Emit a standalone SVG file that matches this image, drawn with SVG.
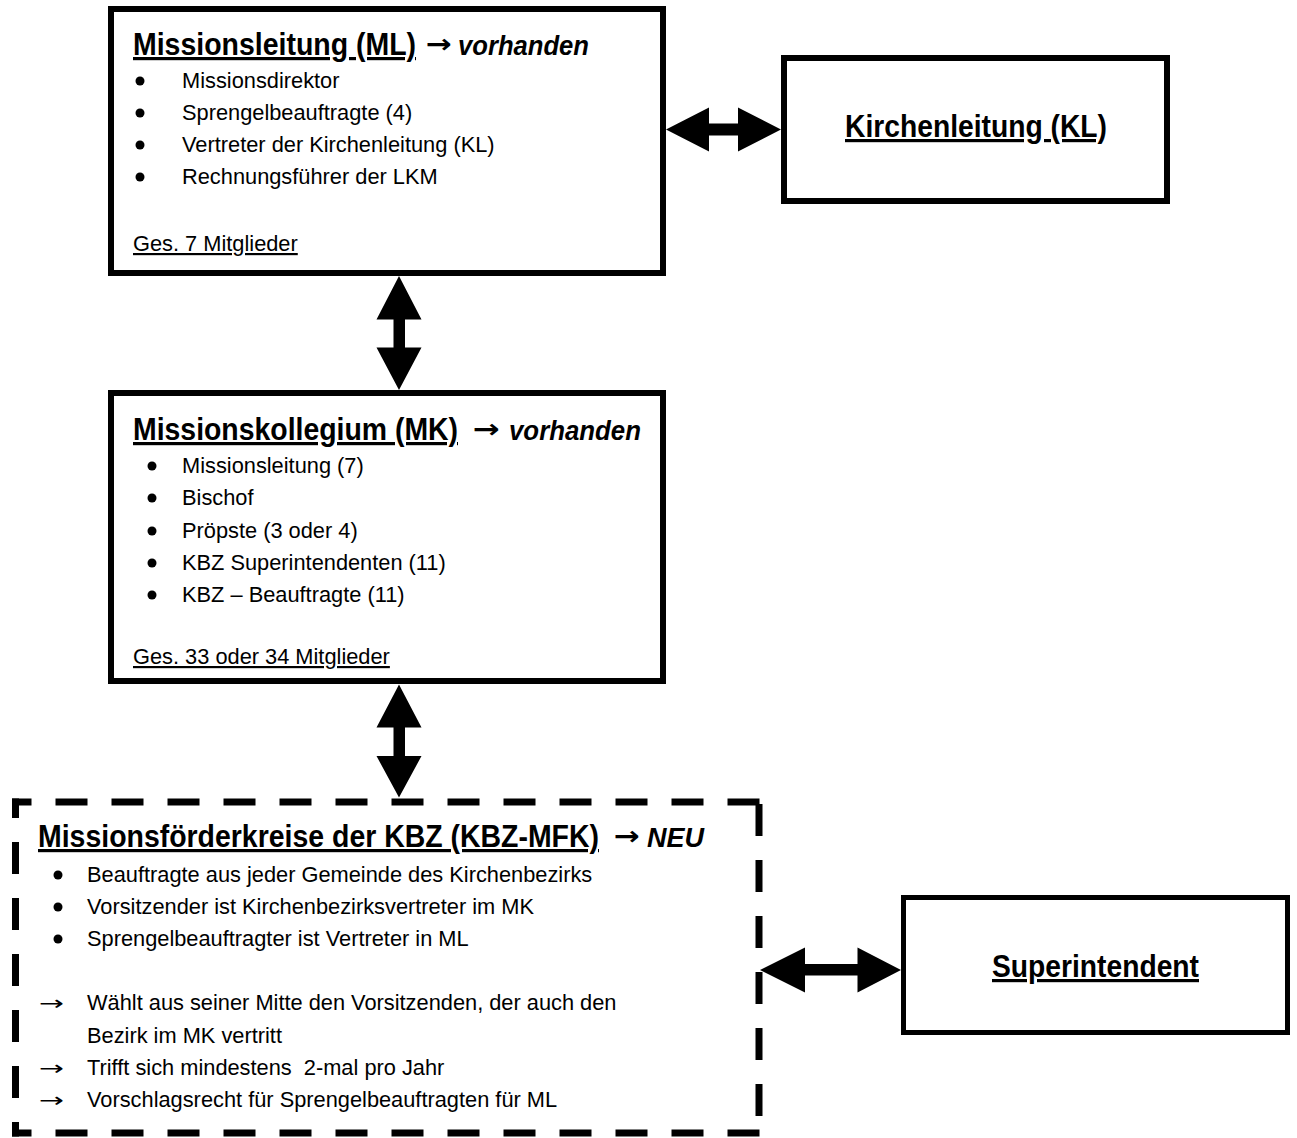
<svg xmlns="http://www.w3.org/2000/svg" width="1297" height="1138" viewBox="0 0 1297 1138">
<style>
.box{fill:#fff;stroke:#000;stroke-width:6}
.dash{fill:none;stroke:#000;stroke-width:7;stroke-dasharray:32 24;stroke-dashoffset:12.5}
.t{font-family:"Liberation Sans",Arial,sans-serif;font-size:32px;font-weight:bold;text-decoration:underline;text-decoration-skip-ink:none}
.v{font-family:"Liberation Sans",Arial,sans-serif;font-size:28px;font-weight:bold;font-style:italic}
.ar{font-family:"DejaVu Sans",sans-serif;font-size:26px;font-weight:bold}
.b{font-family:"Liberation Sans",Arial,sans-serif;font-size:21.8px}
.u{text-decoration:underline;text-decoration-skip-ink:none}
.la{font-family:"DejaVu Sans",sans-serif;font-size:20px}
.con{fill:#000}
</style>
<rect x="0" y="0" width="1297" height="1138" fill="#fff"/>

<g id="connectors">
<polygon class="con" points="666,129.5 709,107.5 709,123.5 738,123.5 738,107.5 781,129.5 738,151.5 738,135.5 709,135.5 709,151.5"/>
<polygon class="con" points="399,276 421.5,319.5 405,319.5 405,347.5 421.5,347.5 399,390 376.5,347.5 393.5,347.5 393.5,319.5 376.5,319.5"/>
<polygon class="con" points="399,684.5 421.5,727.5 405,727.5 405,756 421.5,756 399,797.5 376.5,756 393.5,756 393.5,727.5 376.5,727.5"/>
<polygon class="con" points="760,970 805,947.5 805,964 857.5,964 857.5,947.5 901,970 857.5,992.5 857.5,975.5 805,975.5 805,992.5"/>
</g>

<g id="ml">
<rect class="box" x="111" y="9" width="552" height="264"/>
<text class="t" x="133" y="55" textLength="283" lengthAdjust="spacingAndGlyphs">Missionsleitung (ML)</text>
<text class="ar" x="426" y="53" textLength="26" lengthAdjust="spacingAndGlyphs">→</text>
<text class="v" x="458" y="55" textLength="131" lengthAdjust="spacingAndGlyphs">vorhanden</text>
<circle cx="140" cy="81" r="4.5"/>
<text class="b" x="182" y="88">Missionsdirektor</text>
<circle cx="140" cy="113" r="4.5"/>
<text class="b" x="182" y="120">Sprengelbeauftragte (4)</text>
<circle cx="140" cy="145" r="4.5"/>
<text class="b" x="182" y="152">Vertreter der Kirchenleitung (KL)</text>
<circle cx="140" cy="177" r="4.5"/>
<text class="b" x="182" y="184">Rechnungsführer der LKM</text>
<text class="b u" x="133" y="251">Ges. 7 Mitglieder</text>
</g>

<g id="kl">
<rect class="box" x="784" y="58" width="383" height="143"/>
<text class="t" x="845" y="137" textLength="262" lengthAdjust="spacingAndGlyphs">Kirchenleitung (KL)</text>
</g>

<g id="mk">
<rect class="box" x="111" y="393" width="552" height="288"/>
<text class="t" x="133" y="440" textLength="325" lengthAdjust="spacingAndGlyphs">Missionskollegium (MK)</text>
<text class="ar" x="473" y="438" textLength="27" lengthAdjust="spacingAndGlyphs">→</text>
<text class="v" x="509" y="440" textLength="132" lengthAdjust="spacingAndGlyphs">vorhanden</text>
<circle cx="152" cy="466" r="4.5"/>
<text class="b" x="182" y="473">Missionsleitung (7)</text>
<circle cx="152" cy="498" r="4.5"/>
<text class="b" x="182" y="505">Bischof</text>
<circle cx="152" cy="531" r="4.5"/>
<text class="b" x="182" y="538">Pröpste (3 oder 4)</text>
<circle cx="152" cy="563" r="4.5"/>
<text class="b" x="182" y="570">KBZ Superintendenten (11)</text>
<circle cx="152" cy="595" r="4.5"/>
<text class="b" x="182" y="602">KBZ – Beauftragte (11)</text>
<text class="b u" x="133" y="664">Ges. 33 oder 34 Mitglieder</text>
</g>

<g id="mfk">
<rect x="15.5" y="802" width="743.5" height="331" fill="#fff"/>
<path class="dash" d="M12,802 H762.5"/>
<path class="dash" d="M12,1133 H762.5"/>
<path class="dash" d="M15.5,798.5 V1136.5"/>
<path class="dash" d="M759,798.5 V1136.5" style="stroke-dashoffset:50.5"/>
<text class="t" x="38" y="847" textLength="561" lengthAdjust="spacingAndGlyphs">Missionsförderkreise der KBZ (KBZ-MFK)</text>
<text class="ar" x="614" y="845" textLength="26" lengthAdjust="spacingAndGlyphs">→</text>
<text class="v" x="647" y="847" textLength="57" lengthAdjust="spacingAndGlyphs">NEU</text>
<circle cx="58" cy="875" r="4.5"/>
<text class="b" x="87" y="882">Beauftragte aus jeder Gemeinde des Kirchenbezirks</text>
<circle cx="58" cy="907" r="4.5"/>
<text class="b" x="87" y="914">Vorsitzender ist Kirchenbezirksvertreter im MK</text>
<circle cx="58" cy="939" r="4.5"/>
<text class="b" x="87" y="946">Sprengelbeauftragter ist Vertreter in ML</text>
<text class="la" x="39" y="1010" textLength="25" lengthAdjust="spacingAndGlyphs">→</text>
<text class="b" x="87" y="1010">Wählt aus seiner Mitte den Vorsitzenden, der auch den</text>
<text class="b" x="87" y="1043">Bezirk im MK vertritt</text>
<text class="la" x="39" y="1075" textLength="25" lengthAdjust="spacingAndGlyphs">→</text>
<text class="b" x="87" y="1075" xml:space="preserve">Trifft sich mindestens  2-mal pro Jahr</text>
<text class="la" x="39" y="1107" textLength="25" lengthAdjust="spacingAndGlyphs">→</text>
<text class="b" x="87" y="1107">Vorschlagsrecht für Sprengelbeauftragten für ML</text>
</g>

<g id="superintendent">
<rect class="box" x="903.5" y="897.5" width="384" height="135" style="stroke-width:5"/>
<text class="t" x="992" y="977" textLength="207" lengthAdjust="spacingAndGlyphs">Superintendent</text>
</g>
</svg>
